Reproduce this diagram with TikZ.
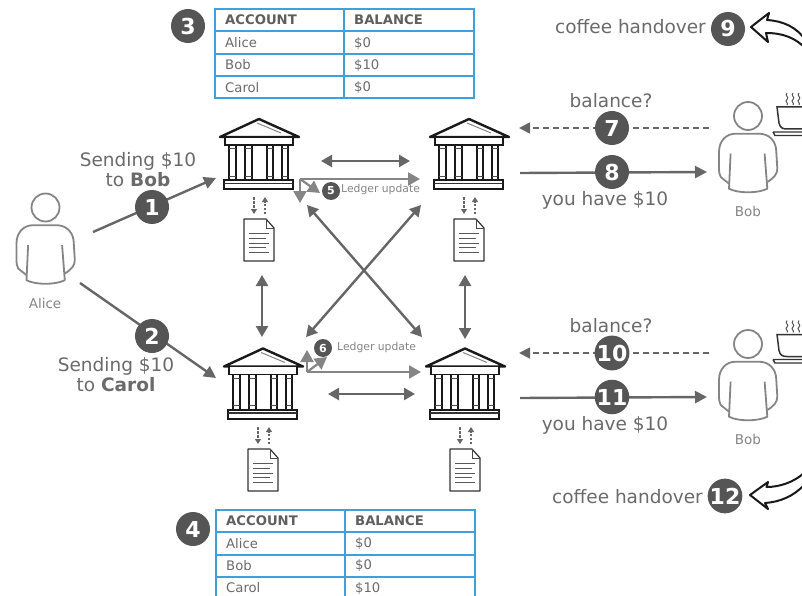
\documentclass[tikz,border=0pt]{standalone}
\usepackage{fontspec}
\setmainfont{DejaVu Sans}
\usetikzlibrary{arrows.meta}
\definecolor{txt}{HTML}{6A6A6A}
\definecolor{dark}{HTML}{555555}
\definecolor{conn}{HTML}{666666}
\definecolor{mid}{HTML}{858585}
\definecolor{tblue}{HTML}{3FA0DE}
\tikzset{
 x=1pt,y=-1pt,
 lbl/.style={text=txt,font=\fontsize{18.5}{20}\selectfont,align=center,inner sep=0pt},
 small/.style={text=mid,font=\fontsize{13.5}{15}\selectfont,inner sep=0pt},
 ledgertxt/.style={text=mid,font=\fontsize{10.8}{12}\selectfont,inner sep=0pt,anchor=west},
 numc/.style={circle,fill=dark,text=white,minimum size=34pt,inner sep=0pt,font=\fontsize{22}{22}\bfseries\selectfont},
 numsmall/.style={circle,fill=dark,text=white,minimum size=18pt,inner sep=0pt,font=\fontsize{11}{11}\bfseries\selectfont},
 flow/.style={draw=conn,line width=2.4pt,-{Triangle[length=12pt,width=12pt]}},
 both/.style={draw=conn,line width=2.4pt,{Triangle[length=11pt,width=12pt]}-{Triangle[length=11pt,width=12pt]}},
 ledger/.style={draw=mid,line width=2.2pt,-{Triangle[length=12pt,width=13pt]}},
 dashflow/.style={draw=conn,dash pattern=on 6pt off 4pt,line width=1.8pt,-{Triangle[length=11pt,width=11pt]}},
 docflow/.style={draw=conn,line width=1.1pt,dash pattern=on 2.5pt off 1.5pt,-{Triangle[length=5pt,width=6pt]}},
 hand/.style={draw=black!90,fill=white,line width=2pt,line join=round},
 celltxt/.style={text=txt,font=\fontsize{13.2}{15}\selectfont,inner sep=0pt,anchor=west},
 headtxt/.style={text=txt!90!black,font=\fontsize{13.2}{15}\bfseries\selectfont,inner sep=0pt,anchor=west},
 pics/bank/.style={code={
  \draw[black!90,line width=2.4pt,line join=round,fill=white] (-39,19)--(0,1)--(40,19)--cycle;
  \draw[mid,line width=1pt] (-2,5)--(22,15);
  \draw[black!90,line width=1.8pt,fill=white] (-34,19) rectangle (34,27);
  \foreach \a/\b in {-30/-23,-14/-7,8/14,23/29}{
   \draw[black!90,line width=1.8pt,fill=white] (\a,27) rectangle (\b,62);
   \draw[black!70,line width=1pt] (\a,31)--(\b,31) (\a,58)--(\b,58);
  }
  \draw[black!90,line width=2pt,fill=white] (-35,62) rectangle (34,71);
  \draw[black!80,line width=1.2pt] (-35,65.5)--(34,65.5);
 }},
 pics/docicon/.style={code={
  \draw[line width=1.2pt,line join=round,fill=white,draw=black!80] (0,0)--(22,0)--(30,9)--(30,42)--(0,42)--cycle;
  \draw[line width=.9pt,draw=black!70] (22,0)--(22,9)--(30,9);
  \foreach \yy/\xx in {14/25,19/22,24/25,28.5/22,33/25}
   \draw[line width=1pt,draw=black!65] (5,\yy)--(\xx,\yy);
 }},
 pics/person/.style={code={
  \draw[mid,line width=1.8pt] (0,0) circle (14);
  \draw[mid,line width=1.8pt,line join=round] (-19,67.7)--(-27.3,61) .. controls (-29,58) and (-29,55) .. (-29,52.7)
    --(-29,36) .. controls (-29,25) and (-22,17.7) .. (-12.4,17.7)
    --(11,17.7) .. controls (21,17.7) and (28.3,25) .. (28.3,36)
    --(29.3,52.7) .. controls (29.3,58) and (26,62) .. (19.3,66);
  \draw[mid,line width=1.8pt,line join=round] (-17.4,37.7)--(-19,72.7) .. controls (-10,77.5) and (10,77.5) .. (19.3,72.7)--(16.6,37.7);
 }},
 pics/cup/.style={code={
  \draw[black!80,line width=1.5pt,fill=white] (0,14)--(2,30) .. controls (3,35) and (6,36) .. (10,36)--(34,36)--(34,14)--cycle;
  \draw[black!80,line width=1.4pt] (-4,39)--(34,39) (-4,39)--(-2,42.5)--(34,42.5);
  \foreach \s in {10,16,22}
   \draw[dark,line width=1pt] (\s,0) .. controls (\s-3,3) and (\s+3,4) .. (\s,6.5) .. controls (\s-3,8.5) and (\s+2,10) .. (\s,12);
 }},
 pics/ledgertable/.style n args={3}{code={
  \draw[tblue,line width=2pt] (0,0) rectangle (259,89.5);
  \foreach \yy in {22.5,45,67}\draw[tblue,line width=2pt] (0,\yy)--(259,\yy);
  \draw[tblue,line width=2pt] (129,0)--(129,89.5);
  \node[headtxt] (-h1) at (10.5,11) {ACCOUNT};
  \node[headtxt] (-h2) at (139.5,11) {BALANCE};
  \node[celltxt] (-a) at (10.5,34) {Alice};
  \node[celltxt] (-b) at (10.5,56) {Bob};
  \node[celltxt] (-c) at (10.5,78.5) {Carol};
  \node[celltxt] (-av) at (139.5,34) {#1};
  \node[celltxt] (-bv) at (139.5,56) {#2};
  \node[celltxt] (-cv) at (139.5,78.5) {#3};
 }},
}
\begin{document}
\begin{tikzpicture}
\useasboundingbox (0,0) rectangle (802,596);
\clip (0,0) rectangle (802,596);
% tables
\pic (t1) at (214.5,9) {ledgertable={\$0}{\$10}{\$0}};
\pic (t2) at (215.5,509.5) {ledgertable={\$0}{\$0}{\$10}};
% banks
\pic at (259,118) {bank};
\pic at (469,118) {bank};
\pic at (263,347.5) {bank};
\pic at (465,347.5) {bank};
% docs
\pic at (244,219) {docicon};
\pic at (454,219) {docicon};
\pic at (248,449) {docicon};
\pic at (450,449) {docicon};
% people
\pic at (45.5,207.5) {person};
\pic at (748,116) {person};
\pic at (748,344) {person};
\pic at (777,93) {cup};
\pic at (777,320.5) {cup};
% free ends
\foreach \n/\x/\y in {a1/93/232,a2/216/178,b1/80/283,b2/216/378,
 ab1/321/161,ab2/410/161,cd1/328/394,cd2/415/394,ac1/262/275,ac2/262/337,bd1/465/275,bd2/465/339,
 x1/307/205,x2/422/337,y1/421/205,y2/306/337,
 la/300/179,la1/420/179,la2/300/203,la3/320/193,
 lc/307/372,lc1/421/372,lc2/307/350,lc3/327/357,
 q1s/709/128,q1e/519/128,r1s/520/173,r1e/707/172,q2s/709/353,q2e/519/353,r2s/520/398,r2e/707/397,
 d1a/254/197,d1b/254/214,d2a/265/214,d2b/265/197,
 d3a/464/197,d3b/464/214,d4a/475/214,d4b/475/197,
 d5a/258/427,d5b/258/444,d6a/269/444,d6b/269/427,
 d7a/460/427,d7b/460/444,d8a/471/444,d8b/471/427}
 {\coordinate (\n) at (\x,\y);}
% connectors
\draw[flow] (a1)--(a2);
\draw[flow] (b1)--(b2);
\draw[both] (ab1)--(ab2);
\draw[both] (cd1)--(cd2);
\draw[both] (ac1)--(ac2);
\draw[both] (bd1)--(bd2);
\draw[both] (x1)--(x2);
\draw[both] (y1)--(y2);
\draw[ledger] (la)--(la1);
\draw[ledger] (la)--(la2);
\draw[ledger] (la)--(la3);
\draw[ledger] (lc)--(lc1);
\draw[ledger] (lc)--(lc2);
\draw[ledger] (lc)--(lc3);
\draw[dashflow] (q1s)--(q1e);
\draw[flow] (r1s)--(r1e);
\draw[dashflow] (q2s)--(q2e);
\draw[flow] (r2s)--(r2e);
\foreach \p/\q in {d1a/d1b,d2a/d2b,d3a/d3b,d4a/d4b,d5a/d5b,d6a/d6b,d7a/d7b,d8a/d8b}
 \draw[docflow] (\p)--(\q);
% hand-over arrows
\draw[hand] (751,27)--(769,13)--(767,20) .. controls (783,21) and (797,27) .. (806,41)--(806,49) .. controls (796,38) and (783,33) .. (766,33)--(768,42)--cycle;
\draw[hand] (750,495)--(768,482)--(766.5,487) .. controls (780,487) and (794,482) .. (804,473)--(804,485) .. controls (794,496) and (780,502) .. (765,503)--(768,509)--cycle;
% number circles
\node[numc] (n1) at (152,207) {1};
\node[numc] (n2) at (152,336) {2};
\node[numc] (n3) at (188,26) {3};
\node[numc] (n4) at (193,529) {4};
\node[numsmall] (n5) at (331,191) {5};
\node[numsmall] (n6) at (323,348) {6};
\node[numc] (n7) at (612,128) {7};
\node[numc] (n8) at (612,172) {8};
\node[numc] (n9) at (728,29) {9};
\node[numc] (n10) at (612,353) {10};
\node[numc] (n11) at (612,397) {11};
\node[numc] (n12) at (725,496) {12};
% labels
\node[lbl] (s1) at (138,169.5) {Sending \$10\\to \textbf{Bob}};
\node[lbl] (s2) at (116,374.5) {Sending \$10\\to \textbf{Carol}};
\node[lbl] (b1t) at (611,100.7) {balance?};
\node[lbl] (h1t) at (605,200) {you have \$10};
\node[lbl] (b2t) at (611,325.7) {balance?};
\node[lbl] (h2t) at (605,425.5) {you have \$10};
\node[lbl,anchor=east] (c1t) at (706,27) {coffee handover};
\node[lbl,anchor=east] (c2t) at (703,496.5) {coffee handover};
\node[small] (alice) at (45,303) {Alice};
\node[small] (bob1) at (748,211.5) {Bob};
\node[small] (bob2) at (748,439) {Bob};
\node[ledgertxt] (l5) at (341,189.5) {Ledger update};
\node[ledgertxt] (l6) at (337,348) {Ledger update};
\end{tikzpicture}
\end{document}
